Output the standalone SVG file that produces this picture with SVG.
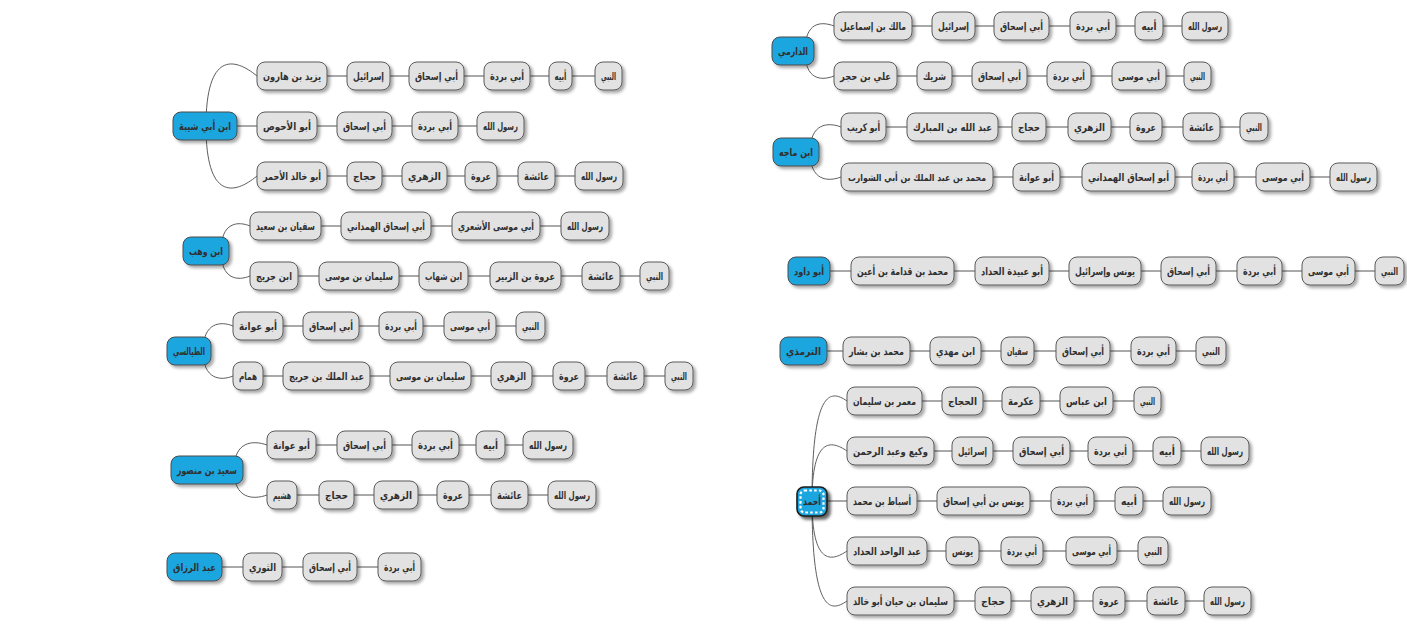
<svg xmlns="http://www.w3.org/2000/svg" width="1407" height="636" viewBox="0 0 1407 636">
<style>
  .n rect { fill: #E2E2E2; stroke: #5A5A5A; stroke-width: 1; filter: url(#sh); }
  .r rect { fill: #1FA6DF; stroke: #4A4A4A; stroke-width: 1; filter: url(#sh); }
  text { font-family: "DejaVu Sans", "Noto Sans", sans-serif; font-size: 10.5px; font-weight: bold; fill: #303030; text-anchor: middle; }
  text.long { font-size: 9.5px; }
  .link { fill: none; stroke: #A9A9A9; stroke-width: 2; }
  .curve { fill: none; stroke: #5E5E5E; stroke-width: 1; }
  #j-root rect.outer { stroke: #1A1A1A; stroke-width: 1.6; filter: url(#sh2); }
  #j-root rect.dash { fill: none; stroke: #FFFFFF; stroke-width: 2.2; stroke-dasharray: 2.6 2.2; filter: none; }
</style>
<defs>
  <filter id="sh" x="-20%" y="-30%" width="150%" height="180%">
    <feDropShadow dx="2.5" dy="2.5" stdDeviation="1.4" flood-color="#000" flood-opacity="0.35"/>
  </filter>
  <filter id="sh2" x="-30%" y="-30%" width="170%" height="170%">
    <feDropShadow dx="3" dy="3" stdDeviation="1.6" flood-color="#000" flood-opacity="0.6"/>
  </filter>
</defs>
<rect width="1407" height="636" fill="#FFFFFF"/>

<!-- connectors -->
<g id="connectors">
  <!-- ابن أبي شيبة -->
  <path class="curve" d="M206 126C206 52 234 57 257 76"/>
  <path class="curve" d="M206 126C206 200 234 195 257 176"/>
  <path class="link" d="M327 76H347M390 76H409M464 76H484M530 76H549M572 76H595"/>
  <path class="link" d="M237 126H257M317 126H337M392 126H412M458 126H477"/>
  <path class="link" d="M327 176H347M382 176H402M447 176H465M497 176H518M555 176H575"/>
  <!-- ابن وهب -->
  <path class="curve" d="M221 251C221 222 238 221 250 226"/>
  <path class="curve" d="M221 251C221 280 238 281 250 276"/>
  <path class="link" d="M321 226H341M431 226H452M540 226H561"/>
  <path class="link" d="M298 276H319M399 276H419M468 276H490M561 276H582M620 276H640"/>
  <!-- الطيالسي -->
  <path class="curve" d="M203 351C203 322 221 321 233 326"/>
  <path class="curve" d="M203 351C203 380 221 381 233 376"/>
  <path class="link" d="M283 326H303M359 326H379M423 326H444M496 326H516"/>
  <path class="link" d="M263 376H283M370 376H390M471 376H491M532 376H553M585 376H607M644 376H665"/>
  <!-- سعيد بن منصور -->
  <path class="curve" d="M234 470C234 441 253 440 267 445"/>
  <path class="curve" d="M234 470C234 499 253 500 267 495"/>
  <path class="link" d="M316 445H337M392 445H412M459 445H476M505 445H523"/>
  <path class="link" d="M297 495H319M354 495H374M418 495H437M469 495H491M528 495H548"/>
  <!-- عبد الرزاق -->
  <path class="link" d="M222 567H243M282 567H303M357 567H378"/>
  <!-- الدارمي -->
  <path class="curve" d="M805 51C805 22 821 21 834 26"/>
  <path class="curve" d="M805 51C805 80 821 81 834 76"/>
  <path class="link" d="M912 26H932M975 26H994M1049 26H1070M1116 26H1135M1163 26H1182"/>
  <path class="link" d="M897 76H917M952 76H972M1027 76H1047M1091 76H1112M1166 76H1184"/>
  <!-- ابن ماجه -->
  <path class="curve" d="M810 152C810 123 828 122 841 127"/>
  <path class="curve" d="M810 152C810 181 828 182 841 177"/>
  <path class="link" d="M886 127H907M998 127H1012M1046 127H1068M1111 127H1130M1162 127H1183M1220 127H1240"/>
  <path class="link" d="M993 177H1013M1060 177H1082M1175 177H1192M1234 177H1256M1310 177H1330"/>
  <!-- أبو داود -->
  <path class="link" d="M830 271H851M954 271H975M1049 271H1069M1141 271H1161M1216 271H1237M1282 271H1302M1355 271H1375"/>
  <!-- الترمذي -->
  <path class="link" d="M827 351H843M910 351H930M981 351H1001M1034 351H1056M1110 351H1131M1176 351H1196"/>
  <!-- أحمد -->
  <path class="curve" d="M812 501C812 387 831 390 847 401"/>
  <path class="curve" d="M812 501C812 437 831 440 847 451"/>
  <path class="curve" d="M812 501C812 565 831 562 847 551"/>
  <path class="curve" d="M812 501C812 615 831 612 847 601"/>
  <path class="link" d="M922 401H942M983 401H1002M1040 401H1060M1113 401H1134"/>
  <path class="link" d="M934 451H952M993 451H1013M1070 451H1088M1133 451H1153M1181 451H1201"/>
  <path class="link" d="M827 501H847M917 501H937M1030 501H1051M1094 501H1115M1143 501H1163"/>
  <path class="link" d="M927 551H946M979 551H1001M1043 551H1066M1117 551H1138"/>
  <path class="link" d="M954 601H975M1011 601H1031M1074 601H1093M1125 601H1147M1185 601H1204"/>
</g>

<!-- ابن أبي شيبة -->
<g id="a-root" class="r"><rect x="173" y="112" width="64" height="28" rx="8"/><text x="205" y="130" textLength="52" lengthAdjust="spacingAndGlyphs">ابن أبي شيبة</text></g>
<g id="a1-1" class="n"><rect x="257" y="62" width="70" height="28" rx="8"/><text x="292" y="80" textLength="58" lengthAdjust="spacingAndGlyphs">يزيد بن هارون</text></g>
<g id="a1-2" class="n"><rect x="347" y="62" width="43" height="28" rx="8"/><text x="368.5" y="80" textLength="31" lengthAdjust="spacingAndGlyphs">إسرائيل</text></g>
<g id="a1-3" class="n"><rect x="409" y="62" width="55" height="28" rx="8"/><text x="436.5" y="80" textLength="43" lengthAdjust="spacingAndGlyphs">أبي إسحاق</text></g>
<g id="a1-4" class="n"><rect x="484" y="62" width="46" height="28" rx="8"/><text x="507" y="80" textLength="34" lengthAdjust="spacingAndGlyphs">أبي بردة</text></g>
<g id="a1-5" class="n"><rect x="549" y="62" width="23" height="28" rx="8"/><text x="560.5" y="80" textLength="12" lengthAdjust="spacingAndGlyphs">أبيه</text></g>
<g id="a1-6" class="n"><rect x="595" y="62" width="27" height="28" rx="8"/><text x="608.5" y="80" textLength="15" lengthAdjust="spacingAndGlyphs">النبي</text></g>
<g id="a2-1" class="n"><rect x="257" y="112" width="60" height="28" rx="8"/><text x="287" y="130" textLength="48" lengthAdjust="spacingAndGlyphs">أبو الأحوص</text></g>
<g id="a2-2" class="n"><rect x="337" y="112" width="55" height="28" rx="8"/><text x="364.5" y="130" textLength="43" lengthAdjust="spacingAndGlyphs">أبي إسحاق</text></g>
<g id="a2-3" class="n"><rect x="412" y="112" width="46" height="28" rx="8"/><text x="435" y="130" textLength="34" lengthAdjust="spacingAndGlyphs">أبي بردة</text></g>
<g id="a2-4" class="n"><rect x="477" y="112" width="47" height="28" rx="8"/><text x="500.5" y="130" textLength="35" lengthAdjust="spacingAndGlyphs">رسول الله</text></g>
<g id="a3-1" class="n"><rect x="257" y="162" width="70" height="28" rx="8"/><text x="292" y="180" textLength="58" lengthAdjust="spacingAndGlyphs">أبو خالد الأحمر</text></g>
<g id="a3-2" class="n"><rect x="347" y="162" width="35" height="28" rx="8"/><text x="364.5" y="180" textLength="23" lengthAdjust="spacingAndGlyphs">حجاج</text></g>
<g id="a3-3" class="n"><rect x="402" y="162" width="45" height="28" rx="8"/><text x="424.5" y="180" textLength="33" lengthAdjust="spacingAndGlyphs">الزهري</text></g>
<g id="a3-4" class="n"><rect x="465" y="162" width="32" height="28" rx="8"/><text x="481" y="180" textLength="20" lengthAdjust="spacingAndGlyphs">عروة</text></g>
<g id="a3-5" class="n"><rect x="518" y="162" width="37" height="28" rx="8"/><text x="536.5" y="180" textLength="25" lengthAdjust="spacingAndGlyphs">عائشة</text></g>
<g id="a3-6" class="n"><rect x="575" y="162" width="48" height="28" rx="8"/><text x="599" y="180" textLength="36" lengthAdjust="spacingAndGlyphs">رسول الله</text></g>

<!-- ابن وهب -->
<g id="b-root" class="r"><rect x="183" y="237" width="46" height="28" rx="8"/><text x="206" y="255" textLength="34" lengthAdjust="spacingAndGlyphs">ابن وهب</text></g>
<g id="b1-1" class="n"><rect x="250" y="212" width="71" height="28" rx="8"/><text x="285.5" y="230" textLength="59" lengthAdjust="spacingAndGlyphs">سفيان بن سعيد</text></g>
<g id="b1-2" class="n"><rect x="341" y="212" width="90" height="28" rx="8"/><text x="386" y="230" textLength="78" lengthAdjust="spacingAndGlyphs">أبي إسحاق الهمداني</text></g>
<g id="b1-3" class="n"><rect x="452" y="212" width="88" height="28" rx="8"/><text x="496" y="230" textLength="76" lengthAdjust="spacingAndGlyphs">أبي موسى الأشعري</text></g>
<g id="b1-4" class="n"><rect x="561" y="212" width="48" height="28" rx="8"/><text x="585" y="230" textLength="36" lengthAdjust="spacingAndGlyphs">رسول الله</text></g>
<g id="b2-1" class="n"><rect x="250" y="262" width="48" height="28" rx="8"/><text x="274" y="280" textLength="36" lengthAdjust="spacingAndGlyphs">ابن جريج</text></g>
<g id="b2-2" class="n"><rect x="319" y="262" width="80" height="28" rx="8"/><text x="359" y="280" textLength="68" lengthAdjust="spacingAndGlyphs">سليمان بن موسى</text></g>
<g id="b2-3" class="n"><rect x="419" y="262" width="49" height="28" rx="8"/><text x="443.5" y="280" textLength="37" lengthAdjust="spacingAndGlyphs">ابن شهاب</text></g>
<g id="b2-4" class="n"><rect x="490" y="262" width="71" height="28" rx="8"/><text x="525.5" y="280" textLength="59" lengthAdjust="spacingAndGlyphs">عروة بن الزبير</text></g>
<g id="b2-5" class="n"><rect x="582" y="262" width="38" height="28" rx="8"/><text x="601" y="280" textLength="26" lengthAdjust="spacingAndGlyphs">عائشة</text></g>
<g id="b2-6" class="n"><rect x="640" y="262" width="29" height="28" rx="8"/><text x="654.5" y="280" textLength="17" lengthAdjust="spacingAndGlyphs">النبي</text></g>

<!-- الطيالسي -->
<g id="c-root" class="r"><rect x="167" y="337" width="44" height="28" rx="8"/><text x="189" y="355" textLength="32" lengthAdjust="spacingAndGlyphs">الطيالسي</text></g>
<g id="c1-1" class="n"><rect x="233" y="312" width="50" height="28" rx="8"/><text x="258" y="330" textLength="38" lengthAdjust="spacingAndGlyphs">أبو عوانة</text></g>
<g id="c1-2" class="n"><rect x="303" y="312" width="56" height="28" rx="8"/><text x="331" y="330" textLength="44" lengthAdjust="spacingAndGlyphs">أبي إسحاق</text></g>
<g id="c1-3" class="n"><rect x="379" y="312" width="44" height="28" rx="8"/><text x="401" y="330" textLength="32" lengthAdjust="spacingAndGlyphs">أبي بردة</text></g>
<g id="c1-4" class="n"><rect x="444" y="312" width="52" height="28" rx="8"/><text x="470" y="330" textLength="40" lengthAdjust="spacingAndGlyphs">أبي موسى</text></g>
<g id="c1-5" class="n"><rect x="516" y="312" width="29" height="28" rx="8"/><text x="530.5" y="330" textLength="17" lengthAdjust="spacingAndGlyphs">النبي</text></g>
<g id="c2-1" class="n"><rect x="233" y="362" width="30" height="28" rx="8"/><text x="248" y="380" textLength="18" lengthAdjust="spacingAndGlyphs">همام</text></g>
<g id="c2-2" class="n"><rect x="283" y="362" width="87" height="28" rx="8"/><text x="326.5" y="380" textLength="75" lengthAdjust="spacingAndGlyphs">عبد الملك بن جريج</text></g>
<g id="c2-3" class="n"><rect x="390" y="362" width="81" height="28" rx="8"/><text x="430.5" y="380" textLength="69" lengthAdjust="spacingAndGlyphs">سليمان بن موسى</text></g>
<g id="c2-4" class="n"><rect x="491" y="362" width="41" height="28" rx="8"/><text x="511.5" y="380" textLength="29" lengthAdjust="spacingAndGlyphs">الزهري</text></g>
<g id="c2-5" class="n"><rect x="553" y="362" width="32" height="28" rx="8"/><text x="569" y="380" textLength="20" lengthAdjust="spacingAndGlyphs">عروة</text></g>
<g id="c2-6" class="n"><rect x="607" y="362" width="37" height="28" rx="8"/><text x="625.5" y="380" textLength="25" lengthAdjust="spacingAndGlyphs">عائشة</text></g>
<g id="c2-7" class="n"><rect x="665" y="362" width="28" height="28" rx="8"/><text x="679" y="380" textLength="16" lengthAdjust="spacingAndGlyphs">النبي</text></g>

<!-- سعيد بن منصور -->
<g id="d-root" class="r"><rect x="171" y="456" width="72" height="28" rx="8"/><text x="207" y="474" textLength="60" lengthAdjust="spacingAndGlyphs">سعيد بن منصور</text></g>
<g id="d1-1" class="n"><rect x="267" y="431" width="49" height="28" rx="8"/><text x="291.5" y="449" textLength="37" lengthAdjust="spacingAndGlyphs">أبو عوانة</text></g>
<g id="d1-2" class="n"><rect x="337" y="431" width="55" height="28" rx="8"/><text x="364.5" y="449" textLength="43" lengthAdjust="spacingAndGlyphs">أبي إسحاق</text></g>
<g id="d1-3" class="n"><rect x="412" y="431" width="47" height="28" rx="8"/><text x="435.5" y="449" textLength="35" lengthAdjust="spacingAndGlyphs">أبي بردة</text></g>
<g id="d1-4" class="n"><rect x="476" y="431" width="29" height="28" rx="8"/><text x="490.5" y="449" textLength="15" lengthAdjust="spacingAndGlyphs">أبيه</text></g>
<g id="d1-5" class="n"><rect x="523" y="431" width="50" height="28" rx="8"/><text x="548" y="449" textLength="38" lengthAdjust="spacingAndGlyphs">رسول الله</text></g>
<g id="d2-1" class="n"><rect x="267" y="481" width="30" height="28" rx="8"/><text x="282" y="499" textLength="18" lengthAdjust="spacingAndGlyphs">هشيم</text></g>
<g id="d2-2" class="n"><rect x="319" y="481" width="35" height="28" rx="8"/><text x="336.5" y="499" textLength="23" lengthAdjust="spacingAndGlyphs">حجاج</text></g>
<g id="d2-3" class="n"><rect x="374" y="481" width="44" height="28" rx="8"/><text x="396" y="499" textLength="32" lengthAdjust="spacingAndGlyphs">الزهري</text></g>
<g id="d2-4" class="n"><rect x="437" y="481" width="32" height="28" rx="8"/><text x="453" y="499" textLength="20" lengthAdjust="spacingAndGlyphs">عروة</text></g>
<g id="d2-5" class="n"><rect x="491" y="481" width="37" height="28" rx="8"/><text x="509.5" y="499" textLength="25" lengthAdjust="spacingAndGlyphs">عائشة</text></g>
<g id="d2-6" class="n"><rect x="548" y="481" width="48" height="28" rx="8"/><text x="572" y="499" textLength="36" lengthAdjust="spacingAndGlyphs">رسول الله</text></g>

<!-- عبد الرزاق -->
<g id="e-root" class="r"><rect x="167" y="553" width="55" height="28" rx="8"/><text x="194.5" y="571" textLength="43" lengthAdjust="spacingAndGlyphs">عبد الرزاق</text></g>
<g id="e1-1" class="n"><rect x="243" y="553" width="39" height="28" rx="8"/><text x="262.5" y="571" textLength="27" lengthAdjust="spacingAndGlyphs">الثوري</text></g>
<g id="e1-2" class="n"><rect x="303" y="553" width="54" height="28" rx="8"/><text x="330" y="571" textLength="42" lengthAdjust="spacingAndGlyphs">أبي إسحاق</text></g>
<g id="e1-3" class="n"><rect x="378" y="553" width="43" height="28" rx="8"/><text x="399.5" y="571" textLength="31" lengthAdjust="spacingAndGlyphs">أبي بردة</text></g>

<!-- الدارمي -->
<g id="f-root" class="r"><rect x="772" y="37" width="42" height="28" rx="8"/><text x="793" y="55" textLength="30" lengthAdjust="spacingAndGlyphs">الدارمي</text></g>
<g id="f1-1" class="n"><rect x="834" y="12" width="78" height="28" rx="8"/><text x="873" y="30" textLength="66" lengthAdjust="spacingAndGlyphs">مالك بن إسماعيل</text></g>
<g id="f1-2" class="n"><rect x="932" y="12" width="43" height="28" rx="8"/><text x="953.5" y="30" textLength="31" lengthAdjust="spacingAndGlyphs">إسرائيل</text></g>
<g id="f1-3" class="n"><rect x="994" y="12" width="55" height="28" rx="8"/><text x="1021.5" y="30" textLength="43" lengthAdjust="spacingAndGlyphs">أبي إسحاق</text></g>
<g id="f1-4" class="n"><rect x="1070" y="12" width="46" height="28" rx="8"/><text x="1093" y="30" textLength="34" lengthAdjust="spacingAndGlyphs">أبي بردة</text></g>
<g id="f1-5" class="n"><rect x="1135" y="12" width="28" height="28" rx="8"/><text x="1149" y="30" textLength="15" lengthAdjust="spacingAndGlyphs">أبيه</text></g>
<g id="f1-6" class="n"><rect x="1182" y="12" width="46" height="28" rx="8"/><text x="1205" y="30" textLength="34" lengthAdjust="spacingAndGlyphs">رسول الله</text></g>
<g id="f2-1" class="n"><rect x="834" y="62" width="63" height="28" rx="8"/><text x="865.5" y="80" textLength="51" lengthAdjust="spacingAndGlyphs">علي بن حجر</text></g>
<g id="f2-2" class="n"><rect x="917" y="62" width="35" height="28" rx="8"/><text x="934.5" y="80" textLength="23" lengthAdjust="spacingAndGlyphs">شريك</text></g>
<g id="f2-3" class="n"><rect x="972" y="62" width="55" height="28" rx="8"/><text x="999.5" y="80" textLength="43" lengthAdjust="spacingAndGlyphs">أبي إسحاق</text></g>
<g id="f2-4" class="n"><rect x="1047" y="62" width="44" height="28" rx="8"/><text x="1069" y="80" textLength="32" lengthAdjust="spacingAndGlyphs">أبي بردة</text></g>
<g id="f2-5" class="n"><rect x="1112" y="62" width="54" height="28" rx="8"/><text x="1139" y="80" textLength="42" lengthAdjust="spacingAndGlyphs">أبي موسى</text></g>
<g id="f2-6" class="n"><rect x="1184" y="62" width="27" height="28" rx="8"/><text x="1197.5" y="80" textLength="15" lengthAdjust="spacingAndGlyphs">النبي</text></g>

<!-- ابن ماجه -->
<g id="g-root" class="r"><rect x="773" y="138" width="46" height="28" rx="8"/><text x="796" y="156" textLength="34" lengthAdjust="spacingAndGlyphs">ابن ماجه</text></g>
<g id="g1-1" class="n"><rect x="841" y="113" width="45" height="28" rx="8"/><text x="863.5" y="131" textLength="33" lengthAdjust="spacingAndGlyphs">أبو كريب</text></g>
<g id="g1-2" class="n"><rect x="907" y="113" width="91" height="28" rx="8"/><text x="952.5" y="131" textLength="79" lengthAdjust="spacingAndGlyphs">عبد الله بن المبارك</text></g>
<g id="g1-3" class="n"><rect x="1012" y="113" width="34" height="28" rx="8"/><text x="1029" y="131" textLength="22" lengthAdjust="spacingAndGlyphs">حجاج</text></g>
<g id="g1-4" class="n"><rect x="1068" y="113" width="43" height="28" rx="8"/><text x="1089.5" y="131" textLength="31" lengthAdjust="spacingAndGlyphs">الزهري</text></g>
<g id="g1-5" class="n"><rect x="1130" y="113" width="32" height="28" rx="8"/><text x="1146" y="131" textLength="20" lengthAdjust="spacingAndGlyphs">عروة</text></g>
<g id="g1-6" class="n"><rect x="1183" y="113" width="37" height="28" rx="8"/><text x="1201.5" y="131" textLength="25" lengthAdjust="spacingAndGlyphs">عائشة</text></g>
<g id="g1-7" class="n"><rect x="1240" y="113" width="28" height="28" rx="8"/><text x="1254" y="131" textLength="16" lengthAdjust="spacingAndGlyphs">النبي</text></g>
<g id="g2-1" class="n"><rect x="841" y="163" width="152" height="28" rx="8"/><text class="long" x="917" y="181" textLength="138" lengthAdjust="spacingAndGlyphs">محمد بن عبد الملك بن أبي الشوارب</text></g>
<g id="g2-2" class="n"><rect x="1013" y="163" width="47" height="28" rx="8"/><text x="1036.5" y="181" textLength="35" lengthAdjust="spacingAndGlyphs">أبو عوانة</text></g>
<g id="g2-3" class="n"><rect x="1082" y="163" width="93" height="28" rx="8"/><text x="1128.5" y="181" textLength="81" lengthAdjust="spacingAndGlyphs">أبو إسحاق الهمداني</text></g>
<g id="g2-4" class="n"><rect x="1192" y="163" width="42" height="28" rx="8"/><text x="1213" y="181" textLength="30" lengthAdjust="spacingAndGlyphs">أبي بردة</text></g>
<g id="g2-5" class="n"><rect x="1256" y="163" width="54" height="28" rx="8"/><text x="1283" y="181" textLength="42" lengthAdjust="spacingAndGlyphs">أبي موسى</text></g>
<g id="g2-6" class="n"><rect x="1330" y="163" width="47" height="28" rx="8"/><text x="1353.5" y="181" textLength="35" lengthAdjust="spacingAndGlyphs">رسول الله</text></g>

<!-- أبو داود -->
<g id="h-root" class="r"><rect x="788" y="257" width="42" height="28" rx="8"/><text x="809" y="275" textLength="30" lengthAdjust="spacingAndGlyphs">أبو داود</text></g>
<g id="h1-1" class="n"><rect x="851" y="257" width="103" height="28" rx="8"/><text x="902.5" y="275" textLength="91" lengthAdjust="spacingAndGlyphs">محمد بن قدامة بن أعين</text></g>
<g id="h1-2" class="n"><rect x="975" y="257" width="74" height="28" rx="8"/><text x="1012" y="275" textLength="62" lengthAdjust="spacingAndGlyphs">أبو عبيدة الحداد</text></g>
<g id="h1-3" class="n"><rect x="1069" y="257" width="72" height="28" rx="8"/><text x="1105" y="275" textLength="60" lengthAdjust="spacingAndGlyphs">يونس وإسرائيل</text></g>
<g id="h1-4" class="n"><rect x="1161" y="257" width="55" height="28" rx="8"/><text x="1188.5" y="275" textLength="43" lengthAdjust="spacingAndGlyphs">أبي إسحاق</text></g>
<g id="h1-5" class="n"><rect x="1237" y="257" width="45" height="28" rx="8"/><text x="1259.5" y="275" textLength="33" lengthAdjust="spacingAndGlyphs">أبي بردة</text></g>
<g id="h1-6" class="n"><rect x="1302" y="257" width="53" height="28" rx="8"/><text x="1328.5" y="275" textLength="41" lengthAdjust="spacingAndGlyphs">أبي موسى</text></g>
<g id="h1-7" class="n"><rect x="1375" y="257" width="29" height="28" rx="8"/><text x="1389.5" y="275" textLength="17" lengthAdjust="spacingAndGlyphs">النبي</text></g>

<!-- الترمذي -->
<g id="i-root" class="r"><rect x="780" y="337" width="47" height="28" rx="8"/><text x="803.5" y="355" textLength="35" lengthAdjust="spacingAndGlyphs">الترمذي</text></g>
<g id="i1-1" class="n"><rect x="843" y="337" width="67" height="28" rx="8"/><text x="876.5" y="355" textLength="55" lengthAdjust="spacingAndGlyphs">محمد بن بشار</text></g>
<g id="i1-2" class="n"><rect x="930" y="337" width="51" height="28" rx="8"/><text x="955.5" y="355" textLength="39" lengthAdjust="spacingAndGlyphs">ابن مهدي</text></g>
<g id="i1-3" class="n"><rect x="1001" y="337" width="33" height="28" rx="8"/><text x="1017.5" y="355" textLength="21" lengthAdjust="spacingAndGlyphs">سفيان</text></g>
<g id="i1-4" class="n"><rect x="1056" y="337" width="54" height="28" rx="8"/><text x="1083" y="355" textLength="42" lengthAdjust="spacingAndGlyphs">أبي إسحاق</text></g>
<g id="i1-5" class="n"><rect x="1131" y="337" width="45" height="28" rx="8"/><text x="1153.5" y="355" textLength="33" lengthAdjust="spacingAndGlyphs">أبي بردة</text></g>
<g id="i1-6" class="n"><rect x="1196" y="337" width="30" height="28" rx="8"/><text x="1211" y="355" textLength="18" lengthAdjust="spacingAndGlyphs">النبي</text></g>

<!-- أحمد -->
<g id="j1-1" class="n"><rect x="847" y="387" width="75" height="28" rx="8"/><text x="884.5" y="405" textLength="63" lengthAdjust="spacingAndGlyphs">معمر بن سليمان</text></g>
<g id="j1-2" class="n"><rect x="942" y="387" width="41" height="28" rx="8"/><text x="962.5" y="405" textLength="29" lengthAdjust="spacingAndGlyphs">الحجاج</text></g>
<g id="j1-3" class="n"><rect x="1002" y="387" width="38" height="28" rx="8"/><text x="1021" y="405" textLength="26" lengthAdjust="spacingAndGlyphs">عكرمة</text></g>
<g id="j1-4" class="n"><rect x="1060" y="387" width="53" height="28" rx="8"/><text x="1086.5" y="405" textLength="41" lengthAdjust="spacingAndGlyphs">ابن عباس</text></g>
<g id="j1-5" class="n"><rect x="1134" y="387" width="27" height="28" rx="8"/><text x="1147.5" y="405" textLength="15" lengthAdjust="spacingAndGlyphs">النبي</text></g>
<g id="j2-1" class="n"><rect x="847" y="437" width="87" height="28" rx="8"/><text x="890.5" y="455" textLength="75" lengthAdjust="spacingAndGlyphs">وكيع وعبد الرحمن</text></g>
<g id="j2-2" class="n"><rect x="952" y="437" width="41" height="28" rx="8"/><text x="972.5" y="455" textLength="29" lengthAdjust="spacingAndGlyphs">إسرائيل</text></g>
<g id="j2-3" class="n"><rect x="1013" y="437" width="57" height="28" rx="8"/><text x="1041.5" y="455" textLength="45" lengthAdjust="spacingAndGlyphs">أبي إسحاق</text></g>
<g id="j2-4" class="n"><rect x="1088" y="437" width="45" height="28" rx="8"/><text x="1110.5" y="455" textLength="33" lengthAdjust="spacingAndGlyphs">أبي بردة</text></g>
<g id="j2-5" class="n"><rect x="1153" y="437" width="28" height="28" rx="8"/><text x="1167" y="455" textLength="16" lengthAdjust="spacingAndGlyphs">أبيه</text></g>
<g id="j2-6" class="n"><rect x="1201" y="437" width="48" height="28" rx="8"/><text x="1225" y="455" textLength="36" lengthAdjust="spacingAndGlyphs">رسول الله</text></g>
<g id="j3-1" class="n"><rect x="847" y="487" width="70" height="28" rx="8"/><text x="882" y="505" textLength="58" lengthAdjust="spacingAndGlyphs">أسباط بن محمد</text></g>
<g id="j3-2" class="n"><rect x="937" y="487" width="93" height="28" rx="8"/><text x="983.5" y="505" textLength="81" lengthAdjust="spacingAndGlyphs">يونس بن أبي إسحاق</text></g>
<g id="j3-3" class="n"><rect x="1051" y="487" width="43" height="28" rx="8"/><text x="1072.5" y="505" textLength="31" lengthAdjust="spacingAndGlyphs">أبي بردة</text></g>
<g id="j3-4" class="n"><rect x="1115" y="487" width="28" height="28" rx="8"/><text x="1129" y="505" textLength="16" lengthAdjust="spacingAndGlyphs">أبيه</text></g>
<g id="j3-5" class="n"><rect x="1163" y="487" width="48" height="28" rx="8"/><text x="1187" y="505" textLength="36" lengthAdjust="spacingAndGlyphs">رسول الله</text></g>
<g id="j4-1" class="n"><rect x="847" y="537" width="80" height="28" rx="8"/><text x="887" y="555" textLength="68" lengthAdjust="spacingAndGlyphs">عبد الواحد الحداد</text></g>
<g id="j4-2" class="n"><rect x="946" y="537" width="33" height="28" rx="8"/><text x="962.5" y="555" textLength="21" lengthAdjust="spacingAndGlyphs">يونس</text></g>
<g id="j4-3" class="n"><rect x="1001" y="537" width="42" height="28" rx="8"/><text x="1022" y="555" textLength="30" lengthAdjust="spacingAndGlyphs">أبي بردة</text></g>
<g id="j4-4" class="n"><rect x="1066" y="537" width="51" height="28" rx="8"/><text x="1091.5" y="555" textLength="39" lengthAdjust="spacingAndGlyphs">أبي موسى</text></g>
<g id="j4-5" class="n"><rect x="1138" y="537" width="30" height="28" rx="8"/><text x="1153" y="555" textLength="18" lengthAdjust="spacingAndGlyphs">النبي</text></g>
<g id="j5-1" class="n"><rect x="847" y="587" width="107" height="28" rx="8"/><text x="900.5" y="605" textLength="95" lengthAdjust="spacingAndGlyphs">سليمان بن حيان أبو خالد</text></g>
<g id="j5-2" class="n"><rect x="975" y="587" width="36" height="28" rx="8"/><text x="993" y="605" textLength="24" lengthAdjust="spacingAndGlyphs">حجاج</text></g>
<g id="j5-3" class="n"><rect x="1031" y="587" width="43" height="28" rx="8"/><text x="1052.5" y="605" textLength="31" lengthAdjust="spacingAndGlyphs">الزهري</text></g>
<g id="j5-4" class="n"><rect x="1093" y="587" width="32" height="28" rx="8"/><text x="1109" y="605" textLength="20" lengthAdjust="spacingAndGlyphs">عروة</text></g>
<g id="j5-5" class="n"><rect x="1147" y="587" width="38" height="28" rx="8"/><text x="1166" y="605" textLength="26" lengthAdjust="spacingAndGlyphs">عائشة</text></g>
<g id="j5-6" class="n"><rect x="1204" y="587" width="47" height="28" rx="8"/><text x="1227.5" y="605" textLength="35" lengthAdjust="spacingAndGlyphs">رسول الله</text></g>
<g id="j-root" class="r">
  <rect class="outer" x="797" y="487" width="30" height="29" rx="7"/>
  <rect class="dash" x="800.5" y="490.5" width="23" height="22" rx="4"/>
  <text x="812" y="505" textLength="18" lengthAdjust="spacingAndGlyphs">أحمد</text>
</g>
</svg>
